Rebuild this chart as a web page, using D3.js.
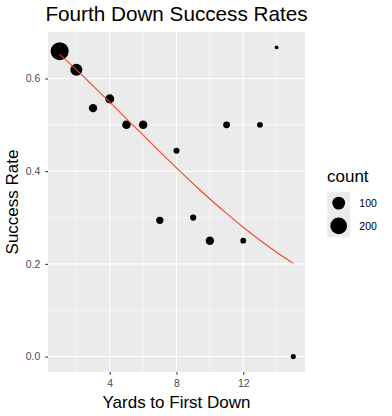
<!DOCTYPE html>
<html><head><meta charset="utf-8">
<script src="https://cdn.jsdelivr.net/npm/d3@7"></script>
<style>body{margin:0;background:#fff;} text{font-family:"Liberation Sans",Arial,sans-serif;}</style>
</head><body><svg id="c" width="392" height="416"></svg>
<script>
const yards = [1,2,3,4,5,6,7,8,9,10,11,12,13,14,15];
const successRate = [0.659,0.619,0.536,0.556,0.5,0.5,0.294,0.444,0.3,0.25,0.5,0.25,0.5,0.667,0];
const counts = [243,84,28,36,30,30,17,9,10,28,14,8,8,3,5];
const fitted = [0.652,0.619,0.584,0.549,0.513,0.478,0.442,0.407,0.373,0.340,0.309,0.279,0.251,0.225,0.201];
const xTicks = [4,8,12];
const xMinor = [2,6,10,14];
const yTicks = [0,0.2,0.4,0.6];
const yMinor = [0.1,0.3,0.5];
const legendBreaks = [100,200];

const svg = d3.select("#c");
const P = {l:48, r:305, t:32, b:372};
const x = d3.scaleLinear().domain([0.3,15.7]).range([P.l,P.r]);
const y = d3.scaleLinear().domain([-0.03335,0.70035]).range([P.b,P.t]);
const tScale = d3.scaleLinear().domain(d3.extent(counts)).range([0,1]);
const diam = c => 2.845*(1+5*Math.sqrt(Math.max(0,tScale(c)))) + 0.94;

svg.append("rect").attr("x",P.l).attr("y",P.t).attr("width",P.r-P.l).attr("height",P.b-P.t).attr("fill","#EBEBEB");
const g = svg.append("g");
xMinor.forEach(v=>g.append("line").attr("x1",x(v)).attr("x2",x(v)).attr("y1",P.t).attr("y2",P.b).attr("stroke","#fff").attr("stroke-width",0.53));
yMinor.forEach(v=>g.append("line").attr("y1",y(v)).attr("y2",y(v)).attr("x1",P.l).attr("x2",P.r).attr("stroke","#fff").attr("stroke-width",0.53));
xTicks.forEach(v=>g.append("line").attr("x1",x(v)).attr("x2",x(v)).attr("y1",P.t).attr("y2",P.b).attr("stroke","#fff").attr("stroke-width",1.07));
yTicks.forEach(v=>g.append("line").attr("y1",y(v)).attr("y2",y(v)).attr("x1",P.l).attr("x2",P.r).attr("stroke","#fff").attr("stroke-width",1.07));

// axes
const xAxis = d3.axisBottom(x).tickValues(xTicks).tickFormat(d3.format("d")).tickSize(2.75).tickPadding(4.5);
const ax = svg.append("g").attr("transform",`translate(0,${P.b})`).call(xAxis);
const yAxis = d3.axisLeft(y).tickValues(yTicks).tickFormat(d3.format(".1f")).tickSize(2.75).tickPadding(5);
const ay = svg.append("g").attr("transform",`translate(${P.l},0)`).call(yAxis);
[ax,ay].forEach(a=>{a.select(".domain").remove();a.selectAll(".tick line").attr("stroke","#333").attr("stroke-width",1.07);
 a.selectAll(".tick text").attr("fill","#4D4D4D").style("font-size","10.5px").style("font-family","Liberation Sans, Arial, sans-serif");});

// points
const data = yards.map((d,i)=>({x:d,y:successRate[i],n:counts[i]}));
svg.append("g").selectAll("circle").data(data).join("circle")
 .attr("cx",d=>x(d.x)).attr("cy",d=>y(d.y)).attr("r",d=>diam(d.n)/2).attr("fill","#000");

// fitted line
const line = d3.line().x((d,i)=>x(yards[i])).y(d=>y(d)).curve(d3.curveMonotoneX);
svg.append("path").attr("d",line(fitted)).attr("fill","none").attr("stroke","#F0462D").attr("stroke-width",1.1);

// titles
svg.append("text").attr("x",(P.l+P.r)/2).attr("y",21).attr("text-anchor","middle").style("font-size","20.7px").attr("fill","#000").text("Fourth Down Success Rates");
svg.append("text").attr("x",(P.l+P.r)/2).attr("y",407.5).attr("text-anchor","middle").style("font-size","17px").attr("fill","#000").text("Yards to First Down");
svg.append("text").attr("transform",`translate(18,${(P.t+P.b)/2}) rotate(-90)`).attr("text-anchor","middle").style("font-size","17px").attr("fill","#000").text("Success Rate");

// legend
const lg = svg.append("g");
lg.append("text").attr("x",327).attr("y",181.5).style("font-size","17px").attr("fill","#000").text("count");
legendBreaks.forEach((b,i)=>{
  const ky = 191.7 + i*22.8;
  lg.append("rect").attr("x",327.3).attr("y",ky).attr("width",22.7).attr("height",22.8).attr("fill","#EBEBEB");
  lg.append("circle").attr("cx",338.7).attr("cy",ky+11.4).attr("r",diam(b)/2).attr("fill","#000");
  lg.append("text").attr("x",359.3).attr("y",ky+11.4).attr("dy","0.35em").style("font-size","10.5px").attr("fill","#000").text(b);
});
</script></body></html>
